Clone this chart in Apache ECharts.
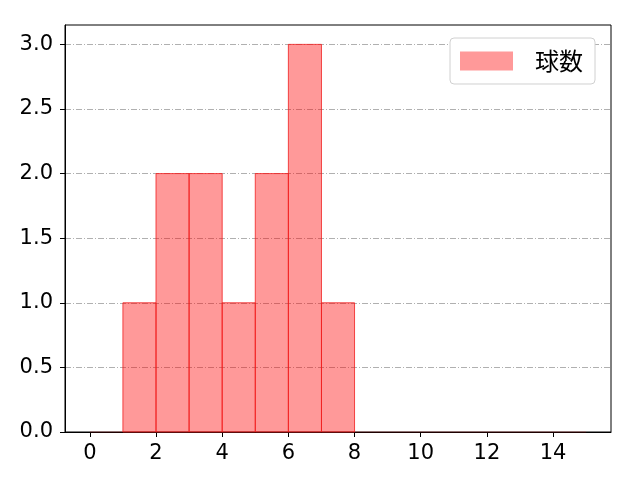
<!DOCTYPE html>
<html><head><meta charset="utf-8">
<script src="https://cdn.jsdelivr.net/npm/echarts@6/dist/echarts.min.js"></script>
<style>html,body{margin:0;padding:0;background:#fff}#c{width:640px;height:480px}</style>
</head><body><div id="c"></div>
<script>
const binStarts = [0,1,2,3,4,5,6,7,8,9,10,11,12,13,14];
const binEnds   = [1,2,3,4,5,6,7,8,9,10,11,12,13,14,15];
const counts    = [0,1,2,2,1,2,3,1,0,0,0,0,0,0,0];
const xTicks = [0,2,4,6,8,10,12,14];
const yTicks = [0,0.5,1,1.5,2,2.5,3];
const seriesName = '球数';

const FONT = 'Noto Sans CJK JP';
const NUMFONT = 'DejaVu Sans';
const data = binStarts.map((s,i)=>[s, binEnds[i], counts[i]]);
const chart = echarts.init(document.getElementById('c'));
chart.setOption({
  animation:false,
  textStyle:{fontFamily:FONT},
  grid:{left:65,right:29,top:25,bottom:48,show:true,borderColor:'#000',borderWidth:1,backgroundColor:'transparent'},
  legend:{
    data:[{name:seriesName, icon:'rect'}],
    right:45, top:38, orient:'vertical',
    itemWidth:53, itemHeight:19, itemGap:10,
    padding:[11,12,11,10],
    backgroundColor:'#fff', borderColor:'#d0d0d0', borderWidth:1, borderRadius:4,
    textStyle:{fontSize:24, color:'#000', fontFamily:FONT, padding:[0,0,0,17]}
  },
  xAxis:{
    type:'value', min:-0.75, max:15.75,
    axisLine:{show:true,onZero:false,lineStyle:{color:'#000'}},
    axisTick:{show:true, length:5, customValues:xTicks, lineStyle:{color:'#000'}},
    axisLabel:{customValues:xTicks, color:'#000', fontSize:21, margin:11, fontFamily:NUMFONT},
    splitLine:{show:false}
  },
  yAxis:{
    type:'value', min:0, max:3.15,
    axisLine:{show:true,onZero:false,lineStyle:{color:'#000'}},
    axisTick:{show:true, length:5, customValues:yTicks, lineStyle:{color:'#000'}},
    axisLabel:{customValues:yTicks, color:'#000', fontSize:21, margin:12, fontFamily:NUMFONT, formatter:v=>v.toFixed(1)},
    splitLine:{show:true, lineStyle:{color:'#b0b0b0', width:1, type:[6,2,1,2]}}
  },
  series:[{
    name:seriesName, type:'custom',
    itemStyle:{color:'rgba(255,0,0,0.4)', borderColor:'rgba(255,0,0,0.4)'},
    encode:{x:[0,1], y:2},
    data:data,
    renderItem:(params, api)=>{
      const v = api.value(2);
      const p0 = api.coord([api.value(0), v]);
      const p1 = api.coord([api.value(1), 0]);
      return {type:'rect', shape:{x:p0[0], y:p0[1], width:p1[0]-p0[0], height:p1[1]-p0[1]},
        style:{fill:'rgba(255,0,0,0.4)', stroke: v>0 ? 'rgba(240,30,30,0.8)' : 'rgba(255,0,0,0.12)', lineWidth:1}};
    }
  }]
});
</script></body></html>
